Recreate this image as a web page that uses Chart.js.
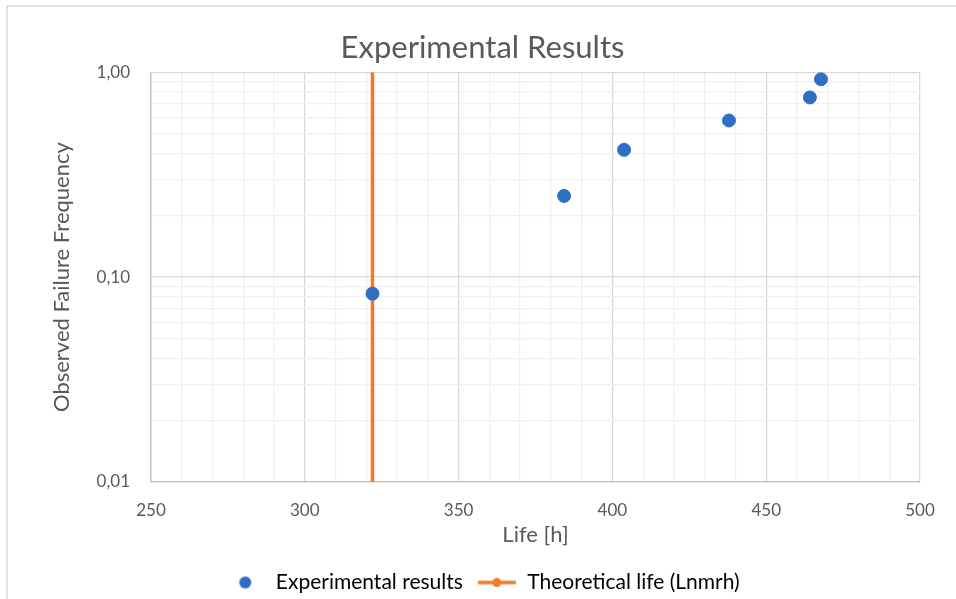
<!DOCTYPE html>
<html>
<head>
<meta charset="utf-8">
<script src="https://cdn.jsdelivr.net/npm/chart.js@4.4.1/dist/chart.umd.min.js"></script>
<style>
  html, body { margin: 0; padding: 0; background: #fff; }
  #wrap { width: 956px; height: 599px; position: relative; }
</style>
</head>
<body>
<div id="wrap"><canvas id="lifeChart" width="956" height="599"></canvas></div>
<script>
// Experimental points (life in hours, observed failure frequency)
const lifeHours = [322, 384.3, 403.8, 437.9, 464.2, 467.8];
const failureFreq = [0.083, 0.249, 0.418, 0.581, 0.753, 0.924];

// Theoretical life (Lnmrh) vertical line
const theoLife = [322, 322];
const theoFreq = [0.01, 1];

// Axis ticks
const yMajorTicks = [0.01, 0.1, 1];
const yTickLabels = ["0,01", "0,10", "1,00"];
const xTickLabels = ["250", "300", "350", "400", "450", "500"];

const blue = "#2E6FC4";
const orange = "#F57A27";
const textGrey = "#595959";
const fontFam = "Lato, 'Open Sans', sans-serif";

// minor positions 2..9 for each decade (grid only)
const yAllTicks = [];
yMajorTicks.forEach((m, i) => {
  yAllTicks.push(m);
  if (i < yMajorTicks.length - 1) {
    for (let k = 2; k <= 9; k++) yAllTicks.push(+(m * k).toFixed(4));
  }
});

// legend markers drawn on small canvases so both are 40px wide
function makeMarker(withLine) {
  const cv = document.createElement("canvas");
  cv.width = 40;
  cv.height = 14;
  const c = cv.getContext("2d");
  if (withLine) {
    c.strokeStyle = orange;
    c.lineWidth = 3.5;
    c.beginPath();
    c.moveTo(1, 7);
    c.lineTo(39, 7);
    c.stroke();
    c.fillStyle = orange;
    c.beginPath();
    c.arc(20, 7, 4.5, 0, Math.PI * 2);
    c.fill();
  } else {
    c.fillStyle = blue;
    c.beginPath();
    c.arc(20, 7, 6, 0, Math.PI * 2);
    c.fill();
  }
  return cv;
}
const dotMarker = makeMarker(false);
const lineMarker = makeMarker(true);

// light frame round the whole chart
const framePlugin = {
  id: "frame",
  beforeDraw(chart) {
    const c = chart.ctx;
    c.save();
    c.strokeStyle = "#D9D9D9";
    c.lineWidth = 1.5;
    c.beginPath();
    c.moveTo(7, 610);
    c.lineTo(7, 6);
    c.lineTo(960, 6);
    c.stroke();
    c.restore();
  },
};

const ctx = document.getElementById("lifeChart").getContext("2d");

const lifeChart = new Chart(ctx, {
  type: "scatter",
  data: {
    datasets: [
      {
        label: "Experimental results",
        data: lifeHours.map((x, i) => ({ x: x, y: failureFreq[i] })),
        backgroundColor: blue,
        borderColor: blue,
        pointRadius: 6.5,
        pointHoverRadius: 6.5,
        showLine: false,
        order: 1,
      },
      {
        label: "Theoretical life (Lnmrh)",
        data: theoLife.map((x, i) => ({ x: x, y: theoFreq[i] })),
        borderColor: orange,
        backgroundColor: orange,
        borderWidth: 3.5,
        pointRadius: 0,
        showLine: true,
        order: 2,
      },
    ],
  },
  options: {
    responsive: false,
    animation: false,
    layout: { padding: { left: 45, right: 36, top: 0, bottom: -4 } },
    plugins: {
      title: {
        display: true,
        text: "Experimental Results",
        color: textGrey,
        font: { family: fontFam, size: 31, weight: "normal" },
        padding: { top: 29, bottom: 6 },
      },
      legend: {
        position: "bottom",
        labels: {
          usePointStyle: true,
          pointStyleWidth: 40,
          color: textGrey,
          font: { family: fontFam, size: 21 },
          padding: 14,
          generateLabels() {
            return [
              { text: "Experimental results", pointStyle: dotMarker, fillStyle: blue, strokeStyle: blue, lineWidth: 0, datasetIndex: 0 },
              { text: "Theoretical life (Lnmrh)", pointStyle: lineMarker, fillStyle: orange, strokeStyle: orange, lineWidth: 0, datasetIndex: 1 },
            ];
          },
        },
      },
      tooltip: { enabled: false },
    },
    scales: {
      x: {
        type: "linear",
        min: 250,
        max: 500,
        afterFit: (scale) => {
          scale.height = 76;
        },
        ticks: {
          stepSize: 10,
          color: textGrey,
          font: { family: fontFam, size: 17 },
          padding: 18,
          autoSkip: false,
          maxRotation: 0,
          callback: (v) => (v % 50 === 0 ? xTickLabels[(v - 250) / 50] : ""),
        },
        grid: {
          drawTicks: false,
          color: (c) => (c.tick && c.tick.value % 50 === 0 ? "#D9D9D9" : "#F0F0F0"),
          lineWidth: 1.3,
        },
        border: { color: "#BFBFBF", width: 1.3 },
        title: {
          display: true,
          text: "Life [h]",
          color: textGrey,
          font: { family: fontFam, size: 22 },
          padding: { top: 0, bottom: 10 },
        },
      },
      y: {
        type: "logarithmic",
        min: 0.01,
        max: 1,
        afterBuildTicks: (scale) => {
          scale.ticks = yAllTicks.map((v) => ({ value: v, major: yMajorTicks.includes(v) }));
        },
        afterFit: (scale) => {
          scale.width = 106;
        },
        ticks: {
          color: textGrey,
          font: { family: fontFam, size: 17 },
          padding: 21,
          autoSkip: false,
          callback: function (v) {
            const i = yMajorTicks.findIndex((m) => Math.abs(m - v) < 1e-9);
            return i >= 0 ? yTickLabels[i] : "";
          },
        },
        grid: {
          drawTicks: false,
          color: (c) =>
            c.tick && yMajorTicks.some((m) => Math.abs(m - c.tick.value) < 1e-9) ? "#D9D9D9" : "#F0F0F0",
          lineWidth: 1.3,
        },
        border: { color: "#BFBFBF", width: 1.3 },
        title: {
          display: true,
          text: "Observed Failure Frequency",
          color: textGrey,
          font: { family: fontFam, size: 22 },
          padding: { top: 4, bottom: 0 },
        },
      },
    },
  },
  plugins: [framePlugin],
});
</script>
</body>
</html>
